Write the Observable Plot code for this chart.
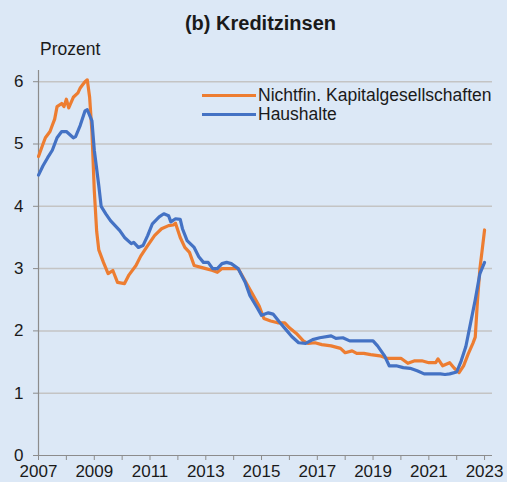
<!DOCTYPE html>
<html>
<head>
<meta charset="utf-8">
<script src="https://cdn.jsdelivr.net/npm/d3@7"></script>
<script src="https://cdn.jsdelivr.net/npm/@observablehq/plot@0.6"></script>
<style>
  html, body { margin: 0; padding: 0; background: #dce8f6; }
  #wrap { position: relative; width: 507px; height: 482px; overflow: hidden;
          font-family: "Liberation Sans", Arial, sans-serif; color: #1a1a1a; }
  #wrap svg { position: absolute; left: 0; top: 0; }
  #chart svg g[aria-label^="x-axis"] line,
  #chart svg g[aria-label^="y-axis"] line,
  #chart svg g[aria-label$="tick"] path { stroke: #8c8c8c; }
  .abs { position: absolute; white-space: nowrap; line-height: 1; }
  #title { left: 0; width: 521px; top: 13px; text-align: center; font-weight: bold; font-size: 20px; }
  #unit { left: 40px; top: 41px; font-size: 17.5px; }
  .leg { font-size: 17.5px; left: 202px; display: flex; align-items: center; }
  .leg span.sw { display: inline-block; width: 54px; height: 3px; margin-right: 2px; }
</style>
</head>
<body>
<div id="wrap">
  <div id="chart"></div>
  <div id="title" class="abs">(b) Kreditzinsen</div>
  <div id="unit" class="abs">Prozent</div>
  <div id="legend"></div>
</div>
<script>
// ---- Data ----
const seriesNames = ["Nichtfin. Kapitalgesellschaften", "Haushalte"];
const seriesColors = ["#ed7d31", "#4472c4"];

const nfcMonths = ["2007-01","2007-03","2007-04","2007-06","2007-07","2007-08","2007-09","2007-11","2007-12","2008-01","2008-02","2008-04","2008-06","2008-07","2008-08","2008-09","2008-10","2008-11","2008-12","2009-01","2009-02","2009-03","2009-05","2009-07","2009-09","2009-11","2010-02","2010-04","2010-07","2010-09","2010-12","2011-03","2011-06","2011-09","2011-11","2011-12","2012-02","2012-04","2012-06","2012-08","2012-11","2013-01","2013-04","2013-06","2013-08","2013-12","2014-03","2014-06","2014-09","2014-12","2015-02","2015-05","2015-08","2015-11","2016-01","2016-04","2016-07","2016-09","2016-12","2017-03","2017-07","2017-11","2018-01","2018-04","2018-06","2018-09","2018-12","2019-04","2019-07","2019-10","2020-01","2020-04","2020-07","2020-10","2021-01","2021-04","2021-05","2021-07","2021-10","2021-12","2022-02","2022-04","2022-06","2022-08","2022-09","2022-10","2022-11","2022-12","2023-01"];
const nfcValues = [4.8,5.0,5.1,5.2,5.3,5.4,5.6,5.65,5.6,5.72,5.58,5.75,5.82,5.9,5.95,6.0,6.03,5.75,5.2,4.25,3.6,3.3,3.1,2.92,2.97,2.78,2.76,2.9,3.05,3.2,3.37,3.53,3.64,3.69,3.7,3.73,3.5,3.34,3.26,3.05,3.02,3.0,2.97,2.94,3.0,3.0,3.0,2.8,2.6,2.4,2.2,2.16,2.13,2.13,2.05,1.96,1.84,1.8,1.81,1.78,1.76,1.72,1.65,1.68,1.64,1.64,1.62,1.6,1.56,1.56,1.56,1.48,1.52,1.52,1.49,1.49,1.55,1.44,1.49,1.4,1.33,1.44,1.63,1.8,1.9,2.5,3.0,3.3,3.62];

const hhMonths = ["2007-01","2007-03","2007-05","2007-07","2007-09","2007-11","2008-01","2008-04","2008-05","2008-07","2008-09","2008-10","2008-12","2009-01","2009-03","2009-04","2009-06","2009-08","2009-10","2009-12","2010-02","2010-05","2010-06","2010-08","2010-10","2010-12","2011-02","2011-05","2011-07","2011-09","2011-10","2011-12","2012-02","2012-03","2012-05","2012-08","2012-10","2012-12","2013-02","2013-04","2013-06","2013-08","2013-10","2013-12","2014-03","2014-06","2014-08","2014-11","2015-01","2015-04","2015-06","2015-09","2015-12","2016-02","2016-05","2016-08","2016-11","2017-02","2017-07","2017-09","2017-12","2018-03","2018-07","2018-10","2019-01","2019-03","2019-06","2019-08","2019-11","2020-02","2020-05","2020-08","2020-11","2021-02","2021-06","2021-08","2021-10","2022-01","2022-03","2022-05","2022-07","2022-09","2022-11","2023-01"];
const hhValues = [4.5,4.65,4.78,4.9,5.1,5.2,5.2,5.1,5.12,5.3,5.53,5.55,5.37,4.9,4.33,4.0,3.88,3.77,3.69,3.61,3.5,3.4,3.42,3.34,3.37,3.53,3.72,3.83,3.88,3.85,3.75,3.8,3.79,3.64,3.45,3.34,3.19,3.1,3.1,3.0,3.0,3.08,3.1,3.08,3.0,2.78,2.57,2.38,2.25,2.29,2.27,2.13,2.0,1.91,1.81,1.8,1.86,1.89,1.92,1.88,1.89,1.84,1.84,1.84,1.84,1.76,1.6,1.44,1.44,1.41,1.4,1.36,1.31,1.31,1.31,1.3,1.31,1.34,1.52,1.75,2.12,2.5,2.92,3.1];

const yTicks = [0, 1, 2, 3, 4, 5, 6];
const xTickLabels = ["2007","2009","2011","2013","2015","2017","2019","2021","2023"];

// ---- Build ----
const parse = d3.utcParse("%Y-%m");
const nfc = nfcMonths.map((m, i) => ({date: parse(m), value: nfcValues[i], series: seriesNames[0]}));
const hh = hhMonths.map((m, i) => ({date: parse(m), value: hhValues[i], series: seriesNames[1]}));

const xStart = new Date(Date.UTC(2007, 0, 1));
const xEnd = new Date(Date.UTC(2023, 3, 15));
const minorDates = d3.utcYear.range(xStart, new Date(Date.UTC(2023, 0, 2)));

const axisGray = "#8c8c8c";
const gridGray = "#c4c4c4";

const chart = Plot.plot({
  width: 507,
  height: 482,
  marginLeft: 38,
  marginRight: 15,
  marginTop: 70,
  marginBottom: 27,
  style: {background: "transparent", fontFamily: "'Liberation Sans', Arial, sans-serif", fontSize: "17px", color: "#1a1a1a", overflow: "visible"},
  x: {
    type: "utc", domain: [xStart, xEnd],
    ticks: minorDates, tickSize: 5, tickPadding: 4,
    tickFormat: d => xTickLabels.includes(String(d.getUTCFullYear())) ? String(d.getUTCFullYear()) : "",
    label: null
  },
  y: {domain: [0, 6.18], ticks: yTicks, tickSize: 5, tickPadding: 10, tickFormat: d => String(d), label: null},
  marks: [
    Plot.ruleY(yTicks.filter(d => d > 0), {stroke: gridGray, strokeWidth: 1.5}),
    Plot.ruleY([0], {stroke: axisGray, strokeWidth: 1.2}),
    Plot.ruleX([xStart], {stroke: axisGray, strokeWidth: 1.2}),
    Plot.line(nfc, {x: "date", y: "value", stroke: seriesColors[0], strokeWidth: 3.2}),
    Plot.line(hh, {x: "date", y: "value", stroke: seriesColors[1], strokeWidth: 3.2})
  ]
});
document.getElementById("chart").appendChild(chart);

// legend
const legend = document.getElementById("legend");
seriesNames.forEach((name, i) => {
  const row = document.createElement("div");
  row.className = "abs leg";
  row.style.top = (i === 0 ? 87 : 106) + "px";
  row.innerHTML = `<span class="sw" style="background:${seriesColors[i]}"></span><span>${name}</span>`;
  legend.appendChild(row);
});
</script>
</body>
</html>
